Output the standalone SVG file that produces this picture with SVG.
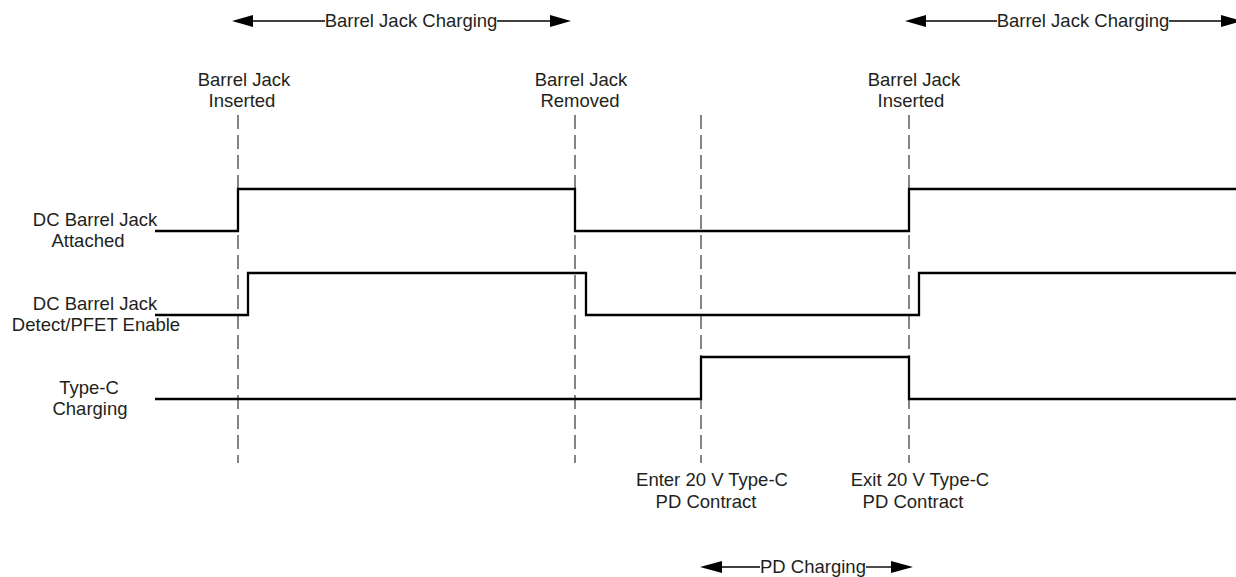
<svg xmlns="http://www.w3.org/2000/svg" width="1236" height="577" viewBox="0 0 1236 577">
<defs>
<style>
text{font-family:"Liberation Sans",Arial,sans-serif;font-size:18.5px;fill:#231f20}
.m{text-anchor:middle}
.dash{stroke:#444;stroke-width:1.3;stroke-dasharray:14 6;fill:none}
.sig{stroke:#000;stroke-width:2.3;fill:none;stroke-linejoin:miter}
.arr{stroke:#000;stroke-width:1.4;fill:none}
.head{fill:#000}
</style>
</defs>
<rect width="1236" height="577" fill="#fff"/>
<g id="guides">
<line class="dash" x1="238" y1="115" x2="238" y2="463"/>
<line class="dash" x1="575" y1="115" x2="575" y2="463"/>
<line class="dash" x1="701" y1="115" x2="701" y2="463"/>
<line class="dash" x1="909" y1="115" x2="909" y2="463"/>
</g>
<g id="connectors">
<path class="sig" d="M155 231 H238 V189 H575 V231 H909 V189 H1236"/>
<path class="sig" d="M155 315 H248 V273 H586 V315 H919 V273 H1236"/>
<path class="sig" d="M155 399 H701 V357 H909 V399 H1236"/>
<line class="arr" x1="252" y1="21" x2="325" y2="21"/>
<line class="arr" x1="497" y1="21" x2="551" y2="21"/>
<polygon class="head" points="232,21 253,15 253,27"/>
<polygon class="head" points="571,21 550,15 550,27"/>
<line class="arr" x1="924" y1="21" x2="997" y2="21"/>
<line class="arr" x1="1169" y1="21" x2="1224" y2="21"/>
<polygon class="head" points="905,21 926,15 926,27"/>
<polygon class="head" points="1242,21 1221,15 1221,27"/>
<line class="arr" x1="720" y1="567" x2="760" y2="567"/>
<line class="arr" x1="866" y1="567" x2="894" y2="567"/>
<polygon class="head" points="700,567 722,561 722,573"/>
<polygon class="head" points="913,567 891,561 891,573"/>
</g>
<g id="signal-labels">
<text class="m" x="95" y="226">DC Barrel Jack</text>
<text class="m" x="88" y="247">Attached</text>
<text class="m" x="95" y="310">DC Barrel Jack</text>
<text class="m" x="96" y="331">Detect/PFET Enable</text>
<text class="m" x="89" y="394">Type-C</text>
<text class="m" x="90" y="415">Charging</text>
</g>
<g id="event-labels">
<text class="m" x="244" y="86">Barrel Jack</text>
<text class="m" x="242" y="107">Inserted</text>
<text class="m" x="581" y="86">Barrel Jack</text>
<text class="m" x="580" y="107">Removed</text>
<text class="m" x="914" y="86">Barrel Jack</text>
<text class="m" x="911" y="107">Inserted</text>
<text class="m" x="712" y="486">Enter 20 V Type-C</text>
<text class="m" x="706" y="508">PD Contract</text>
<text class="m" x="920" y="486">Exit 20 V Type-C</text>
<text class="m" x="913" y="508">PD Contract</text>
</g>
<g id="phase-labels">
<text class="m" x="411" y="27">Barrel Jack Charging</text>
<text class="m" x="1083" y="27">Barrel Jack Charging</text>
<text class="m" x="813" y="573">PD Charging</text>
</g>
</svg>
